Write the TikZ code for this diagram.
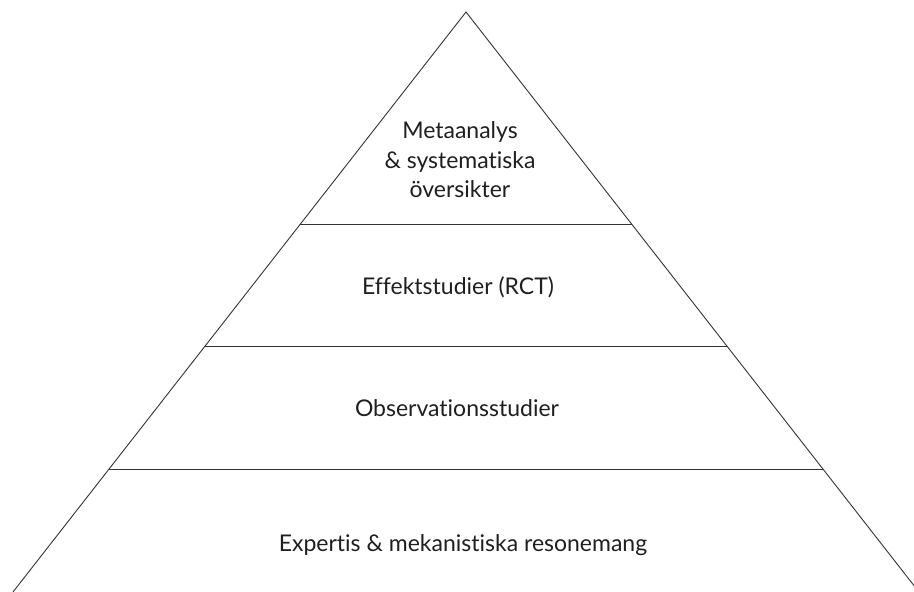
\documentclass[tikz,border=0pt]{standalone}
\usepackage{fontspec}
\setmainfont[Ligatures=NoCommon]{Lato}
\usetikzlibrary{calc}
\begin{document}
\begin{tikzpicture}[x=1pt,y=-1pt,
  edge/.style={draw=black!80,line width=0.9pt},
  tier/.style={font=\fontsize{23}{29.5}\selectfont,text=black!88,align=center,inner sep=0pt}]
\useasboundingbox (0,0) rectangle (914,592);
\coordinate (apex) at (466,12);
\coordinate (bl) at (13,592);
\coordinate (br) at (919,592);
\begin{scope}
\clip (0,0) rectangle (914,592);
\draw[edge] (bl) -- (apex) -- (br);
\end{scope}
\coordinate (l1) at ($(apex)!{212/580}!(bl)$);
\coordinate (r1) at ($(apex)!{212/580}!(br)$);
\coordinate (l2) at ($(apex)!{334/580}!(bl)$);
\coordinate (r2) at ($(apex)!{334/580}!(br)$);
\coordinate (l3) at ($(apex)!{457/580}!(bl)$);
\coordinate (r3) at ($(apex)!{457/580}!(br)$);
\draw[edge] (l1) -- (r1);
\draw[edge] (l2) -- (r2);
\draw[edge] (l3) -- (r3);
\node[tier] (t1) at (460,160) {Metaanalys\\\&~systematiska\\översikter};
\node[tier] (t2) at (458,287) {Effektstudier (RCT)};
\node[tier] (t3) at (457,408) {Observationsstudier};
\node[tier] (t4) at (463,545) {Expertis \& mekanistiska resonemang};
\end{tikzpicture}
\end{document}
